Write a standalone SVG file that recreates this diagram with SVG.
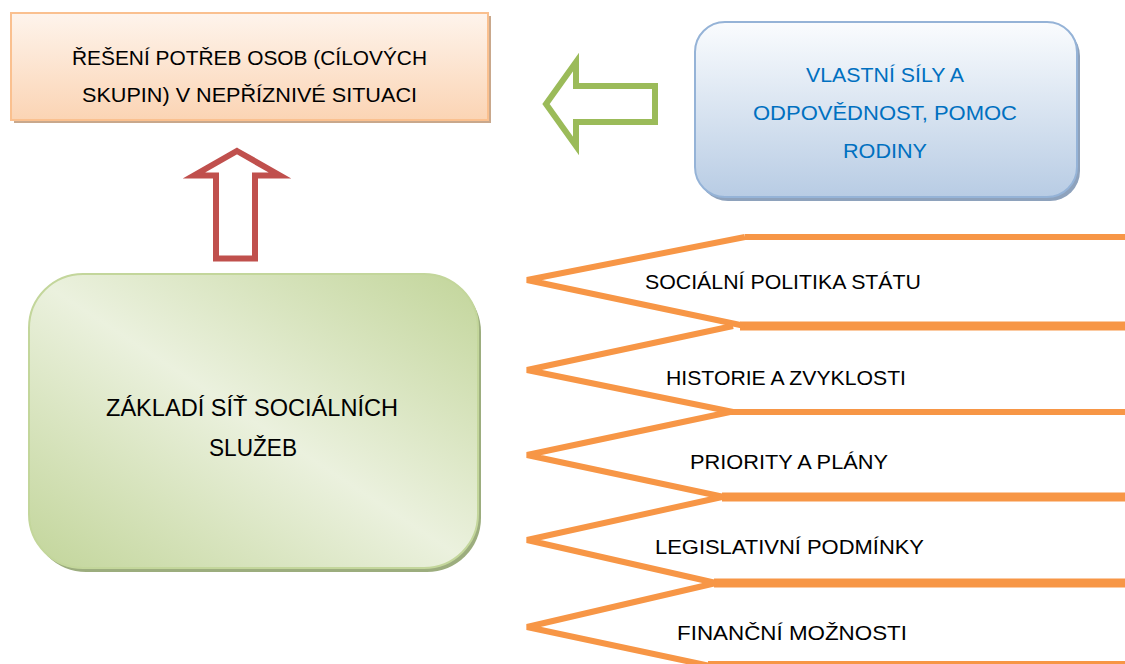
<svg xmlns="http://www.w3.org/2000/svg" width="1125" height="664" viewBox="0 0 1125 664">
<defs>
<linearGradient id="gPeach" x1="0" y1="0" x2="0" y2="1"><stop offset="0" stop-color="#fef4ec"/><stop offset="1" stop-color="#fbd4b4"/></linearGradient>
<linearGradient id="gBlue" x1="0" y1="0" x2="0" y2="1"><stop offset="0" stop-color="#fafcfe"/><stop offset="1" stop-color="#b8cce4"/></linearGradient>
<linearGradient id="gGreen" x1="1" y1="0" x2="0" y2="1"><stop offset="0" stop-color="#c2d59a"/><stop offset="0.5" stop-color="#ebf1de"/><stop offset="1" stop-color="#c2d59a"/></linearGradient>
<style>
text{font-family:"Liberation Sans",Arial,sans-serif;font-size:21px;fill:#000}
.blue{fill:#0070c0}
.big{font-size:24px}
.orange{fill:none;stroke:#f79646;stroke-width:6;stroke-linejoin:miter}
</style>
</defs>
<g id="node-reseni">
<rect x="14" y="16" width="477" height="107" fill="#c9a88c"/>
<rect x="11" y="13" width="477" height="107" fill="url(#gPeach)" stroke="#fac08f" stroke-width="2"/>
<text x="72" y="65" textLength="355" lengthAdjust="spacingAndGlyphs">ŘEŠENÍ POTŘEB OSOB (CÍLOVÝCH</text>
<text x="82" y="102" textLength="335" lengthAdjust="spacingAndGlyphs">SKUPIN) V NEPŘÍZNIVÉ SITUACI</text>
</g>
<g id="node-vlastni">
<rect x="698" y="26" width="382" height="175" rx="30" fill="#8ea2bc"/>
<rect x="695" y="22" width="382" height="175" rx="30" fill="url(#gBlue)" stroke="#95b3d7" stroke-width="2"/>
<text class="blue" x="806" y="82" textLength="158" lengthAdjust="spacingAndGlyphs">VLASTNÍ SÍLY A</text>
<text class="blue" x="753" y="120" textLength="264" lengthAdjust="spacingAndGlyphs">ODPOVĚDNOST, POMOC</text>
<text class="blue" x="843" y="158" textLength="84" lengthAdjust="spacingAndGlyphs">RODINY</text>
</g>
<g id="node-zakladni">
<rect x="32" y="278" width="449" height="294" rx="54" fill="#9cad7e"/>
<rect x="29" y="274" width="449" height="294" rx="54" fill="url(#gGreen)" stroke="#c3d69b" stroke-width="2"/>
<text class="big" x="106" y="416" textLength="292" lengthAdjust="spacingAndGlyphs">ZÁKLADÍ SÍŤ SOCIÁLNÍCH</text>
<text class="big" x="209" y="456" textLength="88" lengthAdjust="spacingAndGlyphs">SLUŽEB</text>
</g>
<g id="connectors">
<polygon points="546,104 576,62 576,86 655,86 655,122 576,122 576,146" fill="none" stroke="#9bbb59" stroke-width="6" stroke-linejoin="miter"/>
<polygon points="237,151 280,175.5 255,175.5 255,258.5 216,258.5 216,175.5 194,175.5" fill="none" stroke="#c0504d" stroke-width="6" stroke-linejoin="miter"/>
</g>
<g id="factors">
<line class="orange" x1="745" y1="237" x2="1125" y2="237" style="stroke-width:6"/>
<line class="orange" x1="740" y1="326" x2="1125" y2="326" style="stroke-width:9"/>
<line class="orange" x1="730" y1="412" x2="1125" y2="412" style="stroke-width:6"/>
<line class="orange" x1="722" y1="497" x2="1125" y2="497" style="stroke-width:9"/>
<line class="orange" x1="714" y1="583" x2="1125" y2="583" style="stroke-width:9"/>
<line class="orange" x1="708" y1="664" x2="1125" y2="664" style="stroke-width:6"/>
<polyline class="orange" points="745,237 527,280 745,326"/>
<polyline class="orange" points="733,326 527,370 733,412"/>
<polyline class="orange" points="730,412 527,455 724,497"/>
<polyline class="orange" points="722,497 527,540 716,583"/>
<polyline class="orange" points="716,583 527,627 710,666"/>
<text x="645" y="289" textLength="276" lengthAdjust="spacingAndGlyphs">SOCIÁLNÍ POLITIKA STÁTU</text>
<text x="666" y="385" textLength="240" lengthAdjust="spacingAndGlyphs">HISTORIE A ZVYKLOSTI</text>
<text x="690" y="469" textLength="198" lengthAdjust="spacingAndGlyphs">PRIORITY A PLÁNY</text>
<text x="655" y="554" textLength="269" lengthAdjust="spacingAndGlyphs">LEGISLATIVNÍ PODMÍNKY</text>
<text x="677" y="640" textLength="230" lengthAdjust="spacingAndGlyphs">FINANČNÍ MOŽNOSTI</text>
</g>
</svg>
